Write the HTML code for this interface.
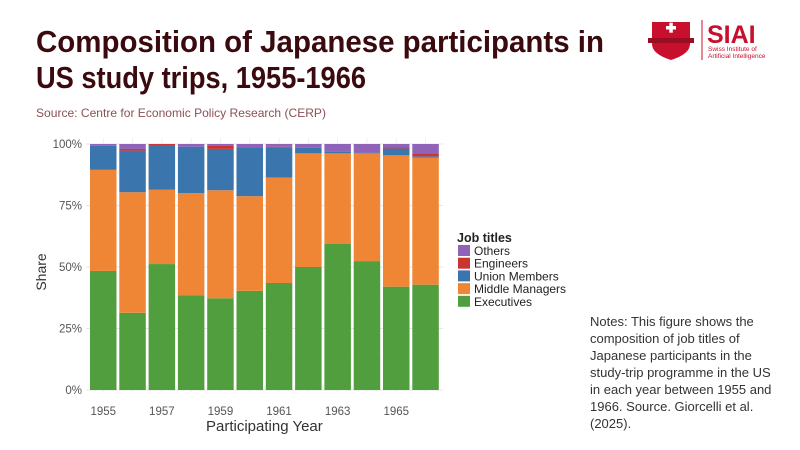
<!DOCTYPE html>
<html><head><meta charset="utf-8"><style>
html,body{margin:0;padding:0;background:#fff;}
svg{display:block;font-family:"Liberation Sans",sans-serif;}
</style></head><body>
<svg id="s" width="800" height="450" viewBox="0 0 800 450" xmlns="http://www.w3.org/2000/svg">
<rect width="800" height="450" fill="#fff"/>
<text x="36" y="52" font-size="31" font-weight="bold" fill="#3a0a0e" textLength="568" lengthAdjust="spacingAndGlyphs">Composition of Japanese participants in</text>
<text x="36" y="88" font-size="31" font-weight="bold" fill="#3a0a0e" textLength="330" lengthAdjust="spacingAndGlyphs">US study trips, 1955-1966</text>
<text x="36" y="117" font-size="12" fill="#8a5055" textLength="290" lengthAdjust="spacingAndGlyphs">Source: Centre for Economic Policy Research (CERP)</text>
<!-- logo -->
<path d="M652 22 L690 22 L690 44 Q690 54 671 60 Q652 54 652 44 Z" fill="#c8102e"/>
<rect x="666" y="26" width="10" height="3.5" fill="#fff"/><rect x="669.3" y="22.7" width="3.5" height="10" fill="#fff"/>
<rect x="648" y="38" width="46" height="5" fill="#9a0c22"/>
<line x1="702" y1="20" x2="702" y2="60" stroke="#c8102e" stroke-width="1"/>
<text x="707" y="43" font-size="25" font-weight="bold" fill="#c8102e">SIAI</text>
<text x="708" y="51" font-size="6.5" fill="#c8102e">Swiss Institute of</text>
<text x="708" y="58" font-size="6.5" fill="#c8102e">Artificial Intelligence</text>
<g id="plot"></g>
<text x="206" y="431" font-size="15" fill="#333">Participating Year</text>
<text transform="translate(46,272) rotate(-90)" text-anchor="middle" font-size="14" fill="#333">Share</text>
<text x="457" y="242" font-size="12.5" font-weight="bold" fill="#222">Job titles</text>
<g font-size="12" fill="#222">
<rect x="458" y="245" width="12" height="11" fill="#8e63b8"/><text x="474" y="255">Others</text>
<rect x="458" y="257.7" width="12" height="11" fill="#cc3333"/><text x="474" y="267.7">Engineers</text>
<rect x="458" y="270.4" width="12" height="11" fill="#3a75ae"/><text x="474" y="280.4">Union Members</text>
<rect x="458" y="283.1" width="12" height="11" fill="#ef8636"/><text x="474" y="293.1">Middle Managers</text>
<rect x="458" y="295.8" width="12" height="11" fill="#519e3e"/><text x="474" y="305.8">Executives</text>
</g>
<g font-size="13" fill="#333">
<text x="590" y="326">Notes: This figure shows the</text>
<text x="590" y="343">composition of job titles of</text>
<text x="590" y="360">Japanese participants in the</text>
<text x="590" y="377">study-trip programme in the US</text>
<text x="590" y="394">in each year between 1955 and</text>
<text x="590" y="411">1966. Source. Giorcelli et al.</text>
<text x="590" y="428">(2025).</text>
</g>
</svg>
<script>
var d=[[48.4,89.5,99.3,99.3],[31.4,80.4,97.3,98],[51.2,81.4,99.6,100],[38.4,80,98.9,98.9],[37.3,81.2,98,99.2],[40.3,78.8,98.6,98.6],[43.5,86.4,98.5,98.9],[50,96.2,98.4,98.4],[59.5,96.2,96.9,96.9],[52.4,96.2,96.5,96.5],[42,95.4,98.2,98.6],[42.8,94.5,95,96.2]];
var c=["#519e3e","#ef8636","#3a75ae","#cc3333","#8e63b8"];
function y(p){return 390-2.46*p;}
var h="";
for(var p=0;p<=100;p+=12.5){h+='<line x1="86" x2="443" y1="'+y(p)+'" y2="'+y(p)+'" stroke="'+(p%25?'#f3f3f3':'#e6e6e6')+'" stroke-width="'+(p%25?0.6:0.9)+'"/>';}
for(var i=0;i<12;i++){var cx=90+i*29.3+13.25;h+='<line x1="'+cx+'" x2="'+cx+'" y1="138" y2="392" stroke="#ececec" stroke-width="0.8"/>';}
for(var p=0;p<=100;p+=25){h+='<text x="82" y="'+(y(p)+4)+'" text-anchor="end" font-size="11.5" fill="#555">'+p+'%</text>';}
for(var i=0;i<12;i++){var x=90+i*29.3,v=d[i],prev=0,vals=[v[0],v[1],v[2],v[3],100];
for(var k=0;k<5;k++){if(vals[k]>prev){h+='<rect x="'+x+'" y="'+y(vals[k])+'" width="26.5" height="'+(2.46*(vals[k]-prev))+'" fill="'+c[k]+'"/>';}prev=vals[k];}
if(i%2==0)h+='<text x="'+(x+13.25)+'" y="415" text-anchor="middle" font-size="11.5" fill="#555">'+(1955+i)+'</text>';}
document.getElementById("plot").innerHTML=h;
</script>
</body></html>
